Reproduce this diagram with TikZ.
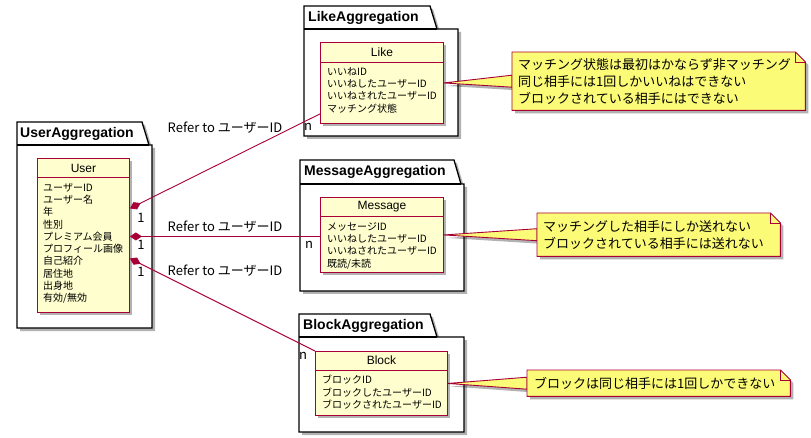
\documentclass[tikz,border=0pt]{standalone}
\usepackage{fontspec}
\setmainfont{Liberation Sans}
\newfontfamily\jp{Noto Sans CJK JP}
\usetikzlibrary{arrows.meta, shadows}
\definecolor{crimson}{HTML}{A80036}
\definecolor{clsfill}{HTML}{FEFECE}
\definecolor{notefill}{HTML}{FBFB77}
\pgfdeclarelayer{pkgs}
\pgfdeclarelayer{notes}
\pgfsetlayers{pkgs,notes,main}

\begin{document}
\begin{tikzpicture}[x=1pt, y=-1pt,
  shade/.style={drop shadow={shadow xshift=3pt, shadow yshift=-3pt, opacity=.3, fill=black}},
  pkg/.style={draw=black, line width=1.3pt, fill=white, shade},
  pkgname/.style={anchor=west, inner sep=0pt, font=\bfseries\fontsize{14}{16}\selectfont},
  cls/.style={draw=crimson, fill=clsfill, line width=0.9pt, shade, inner sep=0pt, anchor=north west},
  clsline/.style={draw=crimson, line width=0.9pt},
  clsname/.style={inner sep=0pt, font=\fontsize{12}{14}\selectfont},
  attrs/.style={anchor=north west, align=left, inner sep=0pt, font=\jp\fontsize{10}{12.3}\selectfont},
  notetext/.style={anchor=north west, align=left, inner xsep=6pt, inner ysep=0pt,
    font=\jp\fontsize{13}{17}\selectfont},
  notebox/.style={draw=crimson, fill=notefill, line width=0.9pt, shade},
  ref/.style={draw=crimson, line width=0.9pt},
  lbl/.style={inner sep=0pt, font=\jp\fontsize{13}{15}\selectfont}]

  \useasboundingbox (0,0) rectangle (811,438);

  % packages
  \begin{pgfonlayer}{pkgs}
    \draw[pkg] (17,122) -- (142,122) -- (149,145) -- (152,145) -- (152,328) -- (17,328) -- cycle;
    \draw[line width=1.3pt] (17,145) -- (149,145);
    \draw[pkg] (304,6) -- (430,6) -- (437,29) -- (458,29) -- (458,136) -- (304,136) -- cycle;
    \draw[line width=1.3pt] (304,29) -- (437,29);
    \draw[pkg] (300,160) -- (454,160) -- (461,184) -- (464,184) -- (464,291) -- (300,291) -- cycle;
    \draw[line width=1.3pt] (300,184) -- (461,184);
    \draw[pkg] (299,314) -- (430,314) -- (437,337) -- (464,337) -- (464,432) -- (299,432) -- cycle;
    \draw[line width=1.3pt] (299,337) -- (437,337);
  \end{pgfonlayer}
  \node[pkgname] (userpkg)  at (20,134)  {UserAggregation};
  \node[pkgname] (likepkg)  at (308,18)  {LikeAggregation};
  \node[pkgname] (msgpkg)   at (304,172) {MessageAggregation};
  \node[pkgname] (blockpkg) at (303,326) {BlockAggregation};

  % classes
  \node[cls, minimum width=92pt, minimum height=154pt] (user) at (37,158) {};
  \draw[clsline] ([yshift=-19pt]user.north west) -- ([yshift=-19pt]user.north east);
  \node[clsname] (username) at ([yshift=-10pt]user.north) {User};
  \node[attrs] (userattrs) at ([xshift=6pt, yshift=-25pt]user.north west)
    {ユーザーID\\ユーザー名\\年\\性別\\プレミアム会員\\プロフィール画像\\自己紹介\\居住地\\出身地\\有効/無効};

  \node[cls, minimum width=123pt, minimum height=81pt] (like) at (320,42) {};
  \draw[clsline] ([yshift=-20pt]like.north west) -- ([yshift=-20pt]like.north east);
  \node[clsname] (likename) at ([yshift=-10pt]like.north) {Like};
  \node[attrs] (likeattrs) at ([xshift=7pt, yshift=-25pt]like.north west)
    {いいねID\\いいねしたユーザーID\\いいねされたユーザーID\\マッチング状態};

  \node[cls, minimum width=123pt, minimum height=75pt] (msg) at (320,197) {};
  \draw[clsline] ([yshift=-19pt]msg.north west) -- ([yshift=-19pt]msg.north east);
  \node[clsname] (msgname) at ([yshift=-9.5pt]msg.north) {Message};
  \node[attrs] (msgattrs) at ([xshift=7pt, yshift=-25pt]msg.north west)
    {メッセージID\\いいねしたユーザーID\\いいねされたユーザーID\\既読/未読};

  \node[cls, minimum width=132pt, minimum height=64pt] (block) at (315,351) {};
  \draw[clsline] ([yshift=-19pt]block.north west) -- ([yshift=-19pt]block.north east);
  \node[clsname] (blockname) at ([yshift=-9.5pt]block.north) {Block};
  \node[attrs] (blockattrs) at ([xshift=7pt, yshift=-24pt]block.north west)
    {ブロックID\\ブロックしたユーザーID\\ブロックされたユーザーID};

  % references
  \draw[ref, {Diamond[length=12pt, width=8pt]}-] ([yshift=27pt]user.east) -- ([yshift=10pt]like.south west);
  \draw[ref, {Diamond[length=12pt, width=8pt]}-] ([yshift=-1pt]user.east) -- ([yshift=-1.5pt]msg.west);
  \draw[ref, {Diamond[length=12pt, width=8pt]}-] ([yshift=-23pt]user.east) -- (block.north west);
  \node[lbl] (likeref)  at (225,128) {Refer to ユーザーID};
  \node[lbl] (msgref)   at (225,227) {Refer to ユーザーID};
  \node[lbl] (blockref) at (225,271) {Refer to ユーザーID};
  \node[lbl] (likeone)  at (141,218) {1};
  \node[lbl] (msgone)   at (141,245) {1};
  \node[lbl] (blockone) at (141,272) {1};
  \node[lbl] (liken)    at (308,127) {n};
  \node[lbl] (msgn)     at (309,245) {n};
  \node[lbl] (blockn)   at (303,356) {n};

  % notes
  \node[notetext, text width=281pt, minimum height=58pt] (likenote) at (512,52)
    {マッチング状態は最初はかならず非マッチング\\同じ相手には1回しかいいねはできない\\ブロックされている相手にはできない};
  \node[notetext, text width=231pt, minimum height=43pt] (msgnote) at (537,213)
    {マッチングした相手にしか送れない\\ブロックされている相手には送れない};
  \node[notetext, text width=249pt, inner xsep=7pt, minimum height=26pt] (blocknote) at (527,370)
    {ブロックは同じ相手には1回しかできない};
  \begin{pgfonlayer}{notes}
    \foreach \c/\n in {like/likenote, msg/msgnote, block/blocknote} {
      \draw[notebox] (\c.east) -- ([yshift=6pt]\n.west) -- ([yshift=-6pt]\n.west) -- cycle;
      \draw[notebox] (\n.north west) -- ([xshift=-10pt]\n.north east) -- ([yshift=-10pt]\n.north east)
        -- (\n.south east) -- (\n.south west) -- cycle;
      \draw[clsline] ([xshift=-10pt]\n.north east) -- ([xshift=-10pt, yshift=-10pt]\n.north east)
        -- ([yshift=-10pt]\n.north east);
    }
  \end{pgfonlayer}
\end{tikzpicture}
\end{document}
